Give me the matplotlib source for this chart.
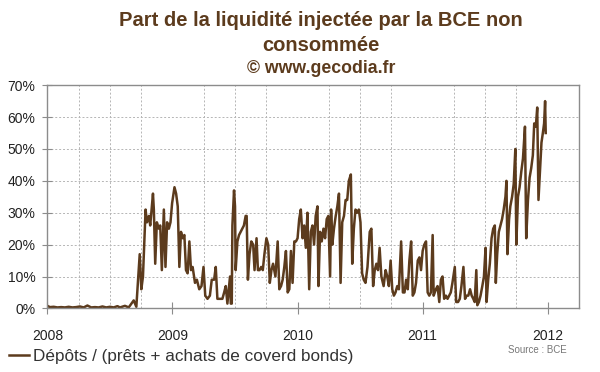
import matplotlib.pyplot as plt
from matplotlib.ticker import FuncFormatter, MultipleLocator

plt.rcParams['font.family'] = ['Liberation Sans', 'DejaVu Sans']

BROWN = '#5c3b1d'
GREY = '#8c8c8c'

# dates as decimal years
dates = [
    2008.00, 2008.02, 2008.05, 2008.08, 2008.11, 2008.14, 2008.17, 2008.20,
    2008.23, 2008.26, 2008.29, 2008.32, 2008.35, 2008.38, 2008.41, 2008.44,
    2008.47, 2008.50, 2008.53, 2008.56, 2008.58, 2008.62, 2008.65,
    # late 2008 - spring 2009
    2008.690, 2008.711, 2008.738, 2008.751, 2008.764, 2008.785, 2008.796,
    2008.812, 2008.822, 2008.844, 2008.851, 2008.862, 2008.875, 2008.891,
    2008.902, 2008.915, 2008.931, 2008.944, 2008.957, 2008.971, 2008.984,
    2008.997, 2009.016, 2009.029, 2009.042, 2009.055, 2009.068, 2009.082,
    2009.095, 2009.108, 2009.121, 2009.135, 2009.148, 2009.161, 2009.180,
    2009.195, 2009.214, 2009.232, 2009.248, 2009.262, 2009.280, 2009.299,
    2009.314, 2009.333, 2009.346, 2009.359,
    # mid 2009 - early 2010
    2009.399, 2009.413, 2009.426, 2009.439, 2009.460, 2009.466, 2009.474,
    2009.479, 2009.492, 2009.500, 2009.505, 2009.519, 2009.532, 2009.545,
    2009.558, 2009.571, 2009.585, 2009.593, 2009.603, 2009.616, 2009.630,
    2009.645, 2009.656, 2009.672, 2009.683, 2009.696, 2009.709, 2009.722,
    2009.735, 2009.751, 2009.765, 2009.778, 2009.791, 2009.804, 2009.823,
    2009.841, 2009.854, 2009.868, 2009.881, 2009.894, 2009.907, 2009.921,
    2009.934, 2009.947, 2009.960, 2009.974, 2009.987, 2010.000, 2010.013,
    2010.026, 2010.040, 2010.053, 2010.066, 2010.079, 2010.093, 2010.106,
    2010.119, 2010.132, 2010.145, 2010.159,
    # 2010
    2010.167, 2010.180, 2010.193, 2010.207, 2010.220, 2010.233, 2010.246,
    2010.260, 2010.268, 2010.278, 2010.291, 2010.305, 2010.318, 2010.331,
    2010.344, 2010.357, 2010.371, 2010.384, 2010.397, 2010.410, 2010.426,
    2010.437, 2010.450, 2010.463, 2010.477, 2010.490, 2010.503, 2010.516,
    2010.529, 2010.543, 2010.559, 2010.577, 2010.590, 2010.604, 2010.617,
    2010.630, 2010.643, 2010.656, 2010.670, 2010.688, 2010.704, 2010.717,
    2010.730, 2010.744, 2010.757, 2010.770, 2010.783, 2010.797, 2010.810,
    2010.828, 2010.842, 2010.855, 2010.868, 2010.881, 2010.894, 2010.908,
    2010.921, 2010.934, 2010.947, 2010.961, 2010.974, 2010.987, 2011.000,
    2011.013, 2011.027, 2011.040, 2011.053, 2011.066,
    # 2011
    2011.080, 2011.088, 2011.106, 2011.119, 2011.133, 2011.146, 2011.159,
    2011.172, 2011.186, 2011.199, 2011.212, 2011.225, 2011.238, 2011.257,
    2011.268, 2011.283, 2011.297, 2011.310, 2011.326, 2011.339, 2011.352,
    2011.365, 2011.379, 2011.392, 2011.405, 2011.416, 2011.429, 2011.437,
    2011.450, 2011.463, 2011.477, 2011.490, 2011.503, 2011.511, 2011.524,
    2011.537, 2011.551, 2011.564, 2011.577, 2011.585, 2011.596, 2011.609,
    2011.622, 2011.635, 2011.648, 2011.662, 2011.670, 2011.678, 2011.691,
    2011.701, 2011.715, 2011.728, 2011.741, 2011.749, 2011.762, 2011.775,
    2011.789, 2011.802, 2011.818, 2011.828, 2011.842, 2011.855, 2011.868,
    2011.881, 2011.892, 2011.905, 2011.916, 2011.926, 2011.939, 2011.950,
    2011.961, 2011.971, 2011.979, 2011.984,
]

# deposits / (loans + covered bond purchases), in %
share = [
    0.8, 0.4, 0.5, 0.3, 0.4, 0.3, 0.5, 0.3,
    0.4, 0.6, 0.3, 0.9, 0.3, 0.4, 0.3, 0.6,
    0.3, 0.5, 0.3, 0.7, 0.3, 0.8, 0.3,
    2.5, 0.5, 17, 6, 10, 31, 27,
    29, 26, 36, 31, 14, 27, 25,
    26, 12, 31, 13, 27, 25, 27,
    33, 38, 36, 32, 13, 24, 22,
    23, 12, 11, 21, 12, 13, 8,
    9, 6, 7, 13, 4, 3, 4,
    9, 9, 13, 3,
    3, 5, 7, 1.5, 10, 1.5, 1.5,
    26, 37, 32, 12, 21, 23, 24,
    25, 26, 29, 29, 9, 17, 21,
    20, 12, 22, 12, 12, 13, 12,
    17, 22, 20, 8, 12, 14, 10,
    21, 6, 7, 9, 13, 18, 5,
    6, 18, 8, 21, 21, 22, 28,
    31, 22, 26, 19, 30, 6, 24,
    26, 20, 29, 32,
    7, 24, 21, 25, 22, 28, 29,
    10, 31, 20, 25, 29, 32, 36,
    8, 27, 29, 34, 34, 40, 42,
    14, 25, 31, 30, 31, 27, 11,
    9, 8, 13, 24, 25, 7, 12,
    14, 12, 19, 10, 7, 12, 10,
    7, 15, 6, 4, 5, 7, 6,
    21, 5, 5, 9, 6, 15, 21,
    4, 5, 8, 15, 16, 12, 18,
    20, 21, 5, 4, 5,
    23, 4, 6, 7, 2, 9, 10,
    3, 4, 3, 4, 5, 8, 13,
    2, 2, 3, 7, 13, 3, 4,
    4, 6, 4, 3, 2, 12, 1,
    2, 4, 7, 10, 19, 2, 9,
    14, 22, 25, 26, 8, 17, 24,
    26, 28, 31, 35, 40, 17, 28,
    32, 35, 39, 50, 20, 35, 38,
    43, 47, 57, 22, 34, 41, 44,
    48, 58, 57, 63, 34, 44, 52,
    55, 58, 65, 55,
]

years = [2008, 2009, 2010, 2011, 2012]

fig = plt.figure(figsize=(6, 3.72), dpi=100)
ax = fig.add_axes([0.079, 0.171, 0.886, 0.600])

line, = ax.plot(dates, share, color=BROWN, lw=1.8)

ax.set_xlim(2008, 2012.25)
ax.set_ylim(0, 70)
ax.set_xticks(years)
ax.set_xticklabels([str(y) for y in years])
ax.xaxis.set_minor_locator(MultipleLocator(0.25))
ax.yaxis.set_major_locator(MultipleLocator(10))
ax.yaxis.set_major_formatter(FuncFormatter(lambda v, p: '%d%%' % v))

ax.grid(True, which='minor', axis='x', color='#b5b5b5', ls=(0, (2, 2)), lw=0.7)
ax.grid(True, which='major', axis='y', color='#b5b5b5', ls=(0, (2, 2)), lw=0.7)

for sp in ax.spines.values():
    sp.set_color(GREY)
    sp.set_linewidth(1)

ax.tick_params(axis='x', which='major', direction='inout', length=9,
               color=GREY, labelsize=10, pad=10, labelcolor='#222222')
ax.tick_params(axis='x', which='minor', length=0)
ax.tick_params(axis='y', direction='inout', length=7, color=GREY,
               labelsize=10, pad=5, labelcolor='#222222')

fig.text(0.535, 0.945, 'Part de la liquidité injectée par la BCE non',
         ha='center', va='center', fontsize=14.5, fontweight='bold', color=BROWN)
fig.text(0.535, 0.878, 'consommée', ha='center', va='center',
         fontsize=14.5, fontweight='bold', color=BROWN)
fig.text(0.535, 0.817, '© www.gecodia.fr', ha='center', va='center',
         fontsize=12.7, fontweight='bold', color=BROWN)

fig.legend([line], ['Dépôts / (prêts + achats de coverd bonds)'],
           loc='center left', bbox_to_anchor=(-0.011, 0.042), frameon=False,
           fontsize=12.3, handlelength=1.2, handletextpad=0.2,
           labelcolor='#333333')

fig.text(0.945, 0.058, 'Source : BCE', ha='right', va='center',
         fontsize=7, color='#777777')

fig.savefig('out.png', dpi=100)
